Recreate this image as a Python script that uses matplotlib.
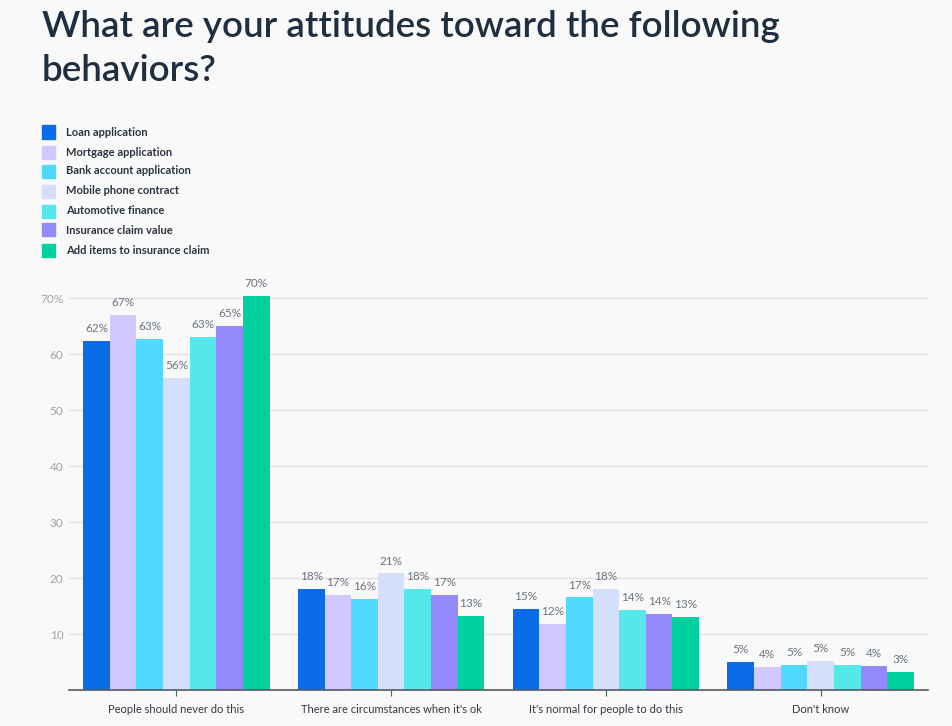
import matplotlib.pyplot as plt
import numpy as np

categories = ["People should never do this", "There are circumstances when it's ok",
              "It's normal for people to do this", "Don't know"]
series = ["Loan application", "Mortgage application", "Bank account application",
          "Mobile phone contract", "Automotive finance", "Insurance claim value",
          "Add items to insurance claim"]
values = {
    "Loan application": [62.4, 18.1, 14.6, 5.05],
    "Mortgage application": [67.0, 17.0, 11.8, 4.16],
    "Bank account application": [62.7, 16.3, 16.6, 4.6],
    "Mobile phone contract": [55.8, 20.9, 18.1, 5.2],
    "Automotive finance": [63.1, 18.1, 14.3, 4.6],
    "Insurance claim value": [65.05, 17.0, 13.6, 4.3],
    "Add items to insurance claim": [70.4, 13.3, 13.1, 3.3],
}
colors = ["#0a6ce6", "#d0c8fe", "#50d8fe", "#d4e0fb", "#56e7ea", "#9389fc", "#00d19e"]
yticks = [10, 20, 30, 40, 50, 60, 70]

bg = "#f9f9f9"
plt.rcParams['font.family'] = ['Lato', 'DejaVu Sans']

fig = plt.figure(figsize=(9.52, 7.26), dpi=100, facecolor=bg)
W, H = 952, 726
ax = fig.add_axes([69 / W, 1 - 690.3 / H, 859 / W, (690.3 - 287) / H])
ax.set_facecolor(bg)

x = np.arange(len(categories))
bw = 0.124
n = len(series)
for i, s in enumerate(series):
    pos = x + (i - (n - 1) / 2) * bw
    bars = ax.bar(pos, values[s], width=bw, color=colors[i], zorder=3)
    for b, v in zip(bars, values[s]):
        ax.text(b.get_x() + b.get_width() / 2, v + 1.2, f"{round(v)}%",
                ha="center", va="bottom", fontsize=8.5, color="#6b7480", clip_on=False)

ax.set_xlim(-0.5, 3.5)
ax.set_ylim(0, 72)
ax.set_yticks(yticks)
ax.set_yticklabels([str(t) if t != 70 else "70%" for t in yticks])
ax.set_xticks(x)
ax.set_xticklabels(categories)
ax.grid(axis="y", color="#e4e4e4", linewidth=1, zorder=0)
for sp in ["top", "right", "left"]:
    ax.spines[sp].set_visible(False)
ax.spines["bottom"].set_color("#555a60")
ax.spines["bottom"].set_linewidth(1.2)
ax.spines["bottom"].set_zorder(4)
ax.tick_params(axis="y", length=0, pad=4, labelsize=8.5, labelcolor="#a0a4a8")
ax.tick_params(axis="x", length=4, color="#555a60", pad=6, labelsize=8, labelcolor="#333840")

fig.text(42 / W, 1 - 10 / H, "What are your attitudes toward the following\nbehaviors?",
         ha="left", va="top", fontsize=26.5, color="#1f2f3f", fontweight="semibold",
         linespacing=1.42)

ys = [132, 152, 171, 191, 211, 230, 250]
for i, s in enumerate(series):
    y = ys[i]
    fig.patches.append(plt.Rectangle((42 / W, 1 - (y + 6.5) / H), 13 / W, 13 / H,
                                     transform=fig.transFigure, color=colors[i]))
    fig.text(66 / W, 1 - y / H, s, ha="left", va="center", fontsize=8,
             fontweight="bold", color="#2b3340")

fig.savefig("out.png", dpi=100, facecolor=bg)
